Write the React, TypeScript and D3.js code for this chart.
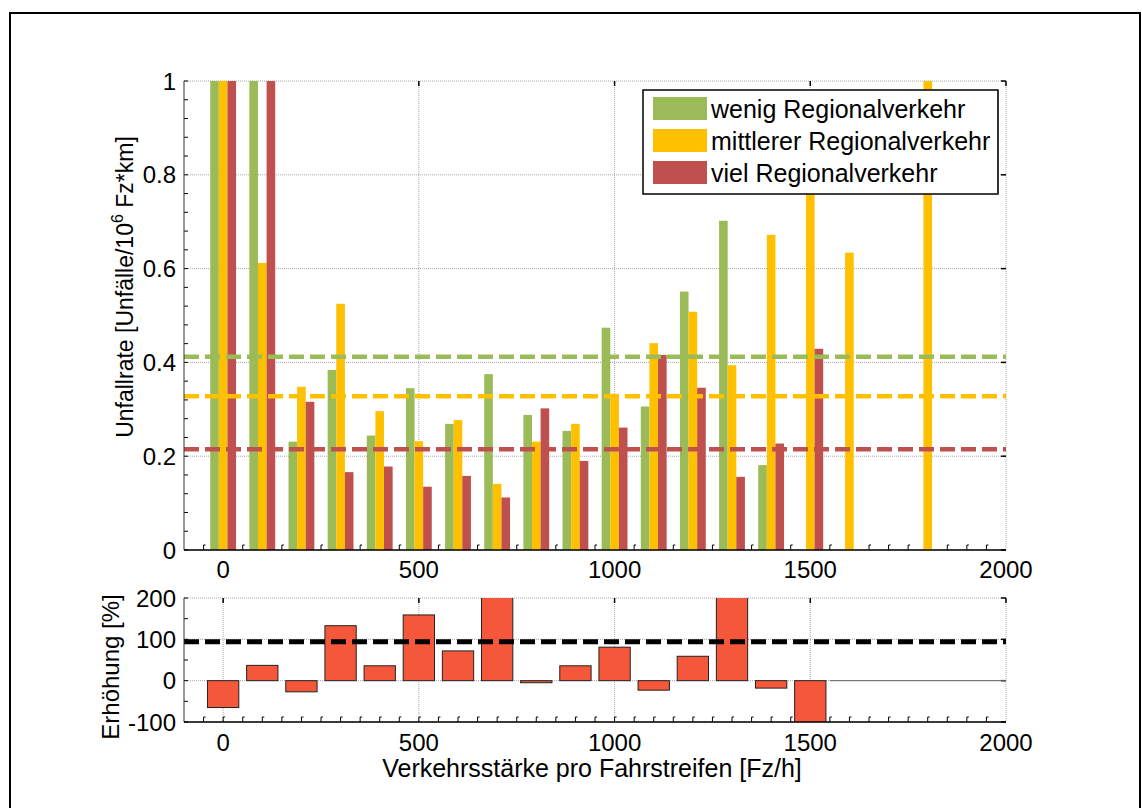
import React from "react";
import * as d3 from "d3";

const groups = [0, 100, 200, 300, 400, 500, 600, 700, 800, 900, 1000, 1100, 1200, 1300, 1400, 1500, 1600, 1700, 1800, 1900, 2000];
const wenig = [1.2, 1.2, 0.231, 0.384, 0.244, 0.345, 0.269, 0.375, 0.288, 0.254, 0.474, 0.306, 0.551, 0.702, 0.181, 0, 0, 0, 0, 0, 0];
const mittel = [1.2, 0.612, 0.348, 0.525, 0.296, 0.232, 0.277, 0.141, 0.231, 0.269, 0.333, 0.441, 0.508, 0.394, 0.672, 0.9, 0.634, 0, 1.2, 0, 0];
const viel = [1.2, 1.2, 0.316, 0.166, 0.178, 0.135, 0.158, 0.112, 0.302, 0.19, 0.261, 0.416, 0.346, 0.156, 0.227, 0.429, 0, 0, 0, 0, 0];
const meanLines = [0.412, 0.328, 0.215];
const seriesNames = ["wenig Regionalverkehr", "mittlerer Regionalverkehr", "viel Regionalverkehr"];
const seriesColors = ["#9BBB59", "#FFC000", "#C0504D"];
const erhoehung = [-65, 37, -27, 133, 36, 159, 72, 230, -5, 36, 81, -23, 59, 230, -18, -130, 0, 0, 0, 0, 0];
const erhoehungMean = 94;
const xTicks = [0, 500, 1000, 1500, 2000];
const yTicksTop = [0, 0.2, 0.4, 0.6, 0.8, 1];
const yTicksBottom = [-100, 0, 100, 200];

const FONT = "'Liberation Sans', Arial, sans-serif";
const FS = 24;

export default function App() {
  const L = 184, R = 1006;
  const T1 = 81, B1 = 550;
  const T2 = 598, B2 = 722;
  const x = d3.scaleLinear().domain([-100, 2000]).range([L, R]);
  const y1 = d3.scaleLinear().domain([0, 1]).range([B1, T1]);
  const y2 = d3.scaleLinear().domain([-100, 200]).range([B2, T2]);
  const series = [wenig, mittel, viel];
  const bw = x(22) - x(0);
  const minorX = d3.range(-50, 2000, 50);
  const minorY1 = d3.range(0, 1.0001, 0.04);
  const minorY2 = d3.range(-100, 200.1, 50);
  const gridStyle = { stroke: "#a8a8a8", strokeWidth: 1, strokeDasharray: "1,1" } as const;

  return (
    <svg width={1142} height={808} style={{ position: "absolute", left: 0, top: 0, background: "#fff" }} fontFamily={FONT}>
      <defs>
        <clipPath id="c1"><rect x={L} y={T1} width={R - L} height={B1 - T1} /></clipPath>
        <clipPath id="c2"><rect x={L} y={T2} width={R - L} height={B2 - T2} /></clipPath>
      </defs>
      <rect x={0} y={0} width={1142} height={808} fill="#fff" />
      <rect x={10} y={13} width={1130} height={810} fill="none" stroke="#000" strokeWidth={2} />

      {/* ===== Top plot ===== */}
      {xTicks.map(t => <line key={"gx" + t} x1={x(t)} x2={x(t)} y1={T1} y2={B1} {...gridStyle} />)}
      {yTicksTop.map(t => <line key={"gy" + t} x1={L} x2={R} y1={y1(t)} y2={y1(t)} {...gridStyle} />)}
      {minorX.map(t => <path key={"mx" + t} d={`M${x(t)},${B1}v-5h2`} fill="none" stroke="#000" strokeWidth={1} />)}
      {minorY1.map(t => <line key={"my" + t} x1={L} x2={L + 4} y1={y1(t)} y2={y1(t)} stroke="#000" strokeWidth={1} />)}
      {yTicksTop.map(t => <line key={"ry" + t} x1={R} x2={R - 5} y1={y1(t)} y2={y1(t)} stroke="#000" strokeWidth={1.5} />)}
      {xTicks.map(t => <line key={"tx" + t} x1={x(t)} x2={x(t)} y1={T1} y2={T1 + 5} stroke="#000" strokeWidth={1.5} />)}
      <g clipPath="url(#c1)">
        {series.map((s, si) =>
          s.map((v, i) => v > 0 ? (
            <rect key={si + "-" + i} x={x(groups[i] + (si - 1) * 22) - bw / 2} width={bw}
              y={y1(v)} height={y1(0) - y1(v)} fill={seriesColors[si]} />
          ) : null)
        )}
        {meanLines.map((m, i) => (
          <line key={"m" + i} x1={L} x2={R} y1={y1(m)} y2={y1(m)} stroke={seriesColors[i]} strokeWidth={4.5} strokeDasharray="15,6" />
        ))}
      </g>
      <line x1={L} x2={L} y1={T1} y2={B1} stroke="#333" strokeWidth={1} />
      <line x1={L} x2={R} y1={B1} y2={B1} stroke="#000" strokeWidth={1.5} />
      {yTicksTop.map(t => (
        <text key={"yl" + t} x={176} y={y1(t) + 8.5} textAnchor="end" fontSize={FS}>{d3.format("~g")(t)}</text>
      ))}
      {xTicks.map(t => (
        <text key={"xl" + t} x={x(t)} y={578} textAnchor="middle" fontSize={FS}>{t}</text>
      ))}
      <text transform={`translate(133,287) rotate(-90)`} textAnchor="middle" fontSize={23}>
        Unfallrate [Unfälle/10<tspan dy={-10} fontSize={16}>6</tspan><tspan dy={10}> Fz*km]</tspan>
      </text>

      {/* Legend */}
      <rect x={643} y={90} width={355} height={104} fill="#fff" stroke="#000" strokeWidth={1.5} />
      <line x1={998} x2={998} y1={91} y2={194} stroke="#333" strokeWidth={2} />
      {seriesNames.map((n, i) => (
        <g key={n}>
          <rect x={653} y={97 + i * 32} width={54} height={23} fill={seriesColors[i]} />
          <text x={711} y={118 + i * 32} fontSize={25}>{n}</text>
        </g>
      ))}

      {/* ===== Bottom plot ===== */}
      {xTicks.map(t => <line key={"bgx" + t} x1={x(t)} x2={x(t)} y1={T2} y2={B2} {...gridStyle} />)}
      {yTicksBottom.map(t => <line key={"bgy" + t} x1={L} x2={R} y1={y2(t)} y2={y2(t)} {...gridStyle} />)}
      {minorX.map(t => <path key={"bmx" + t} d={`M${x(t)},${B2}v-5h2`} fill="none" stroke="#000" strokeWidth={1} />)}
      {minorY2.map(t => <line key={"bmy" + t} x1={L} x2={L + 4} y1={y2(t)} y2={y2(t)} stroke="#000" strokeWidth={1} />)}
      {yTicksBottom.map(t => <line key={"bry" + t} x1={R} x2={R - 5} y1={y2(t)} y2={y2(t)} stroke="#000" strokeWidth={1.5} />)}
      {xTicks.map(t => <line key={"btx" + t} x1={x(t)} x2={x(t)} y1={T2} y2={T2 + 5} stroke="#000" strokeWidth={1.5} />)}
      <g clipPath="url(#c2)">
        {erhoehung.map((v, i) => v !== 0 ? (
          <rect key={"e" + i} x={x(groups[i] - 40)} width={x(80) - x(0)}
            y={y2(Math.max(v, 0))} height={Math.abs(y2(v) - y2(0))}
            fill="#F5573B" stroke="#222" strokeWidth={1} />
        ) : null)}
        <line x1={x(1550)} x2={R} y1={y2(0)} y2={y2(0)} stroke="#666" strokeWidth={1} />
        <line x1={L} x2={R} y1={y2(erhoehungMean)} y2={y2(erhoehungMean)} stroke="#000" strokeWidth={5} strokeDasharray="15,6" />
      </g>
      <line x1={L} x2={L} y1={T2} y2={B2} stroke="#333" strokeWidth={1} />
      <line x1={L} x2={R} y1={B2} y2={B2} stroke="#000" strokeWidth={1.5} />
      {yTicksBottom.map(t => (
        <text key={"byl" + t} x={176} y={y2(t) + 8.5} textAnchor="end" fontSize={FS}>{t}</text>
      ))}
      {xTicks.map(t => (
        <text key={"bxl" + t} x={x(t)} y={751} textAnchor="middle" fontSize={FS}>{t}</text>
      ))}
      <text transform={`translate(119,667) rotate(-90)`} textAnchor="middle" fontSize={FS}>Erhöhung [%]</text>
      <text x={592} y={777} textAnchor="middle" fontSize={25}>Verkehrsstärke pro Fahrstreifen [Fz/h]</text>
    </svg>
  );
}
